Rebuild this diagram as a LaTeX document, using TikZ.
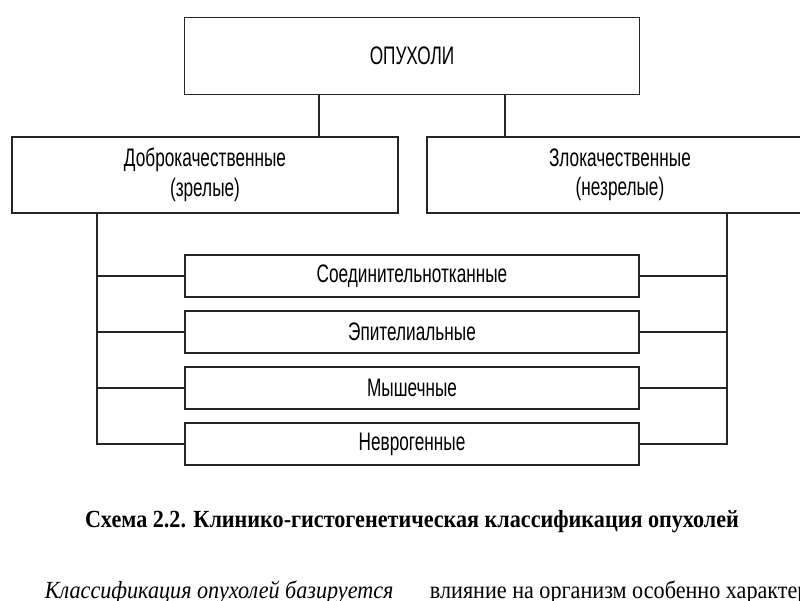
\documentclass[tikz,border=0pt]{standalone}
\usepackage{fontspec}
\setmainfont{Liberation Serif}
\newfontfamily\narrowsans[FakeStretch=0.68]{Liberation Sans}
\newfontfamily\narrowserif[FakeStretch=0.9]{Liberation Serif}
\usetikzlibrary{positioning}

\tikzset{
  box/.style={draw=black!85,line width=1.3pt,minimum height=1.9cm,
    font=\narrowsans\fontsize{18}{21}\selectfont,align=center,inner sep=0pt},
  kindbox/.style={box,minimum width=11.35cm,minimum height=1.03cm},
  wire/.style={black!85,line width=1.1pt},
  bookfont/.style={font=\narrowserif\fontsize{17.5}{20}\selectfont},
  captionfont/.style={font=\narrowserif\bfseries\fontsize{17.5}{20}\selectfont}
}

\begin{document}
\begin{tikzpicture}[x=0.025cm,y=-0.025cm]
\useasboundingbox (0,0) rectangle (800,600);
\fill[white] (0,0) rectangle (800,600);

% top level
\node[box,minimum width=11.375cm,minimum height=1.925cm] (tumor) at (412,56) {ОПУХОЛИ};
\node[box,minimum width=9.65cm] (benign) at (205,175) {Доброкачественные\\(зрелые)};
\node[box,minimum width=9.65cm] (malign) at (620,175) {Злокачественные\\(незрелые)};

\draw[wire] (tumor.south -| 319,0) -- (benign.north -| 319,0);
\draw[wire] (tumor.south -| 505,0) -- (malign.north -| 505,0);

% tissue kinds
\node[kindbox] (conn) at (412,276) {Соединительнотканные};
\node[kindbox] (epith) at (412,332) {Эпителиальные};
\node[kindbox] (muscle) at (412,388) {Мышечные};
\node[kindbox] (neuro) at (412,444) {Неврогенные};

\coordinate (busL) at (97,0);
\coordinate (busR) at (727,0);
\draw[wire] (benign.south -| busL) |- (neuro.west);
\draw[wire] (malign.south -| busR) |- (neuro.east);
\foreach \k in {conn,epith,muscle}{
  \draw[wire] (busL |- \k.west) -- (\k.west);
  \draw[wire] (\k.east) -- (busR |- \k.east);
}

% caption and text below
\node[captionfont] (caption) at (412,522)
  {Схема 2.2. Клинико-гистогенетическая классификация опухолей};
\node[bookfont,anchor=base west] (textL) at (40,598)
  {\itshape Классификация опухолей базируется};
\node[bookfont,anchor=base west] (textR) at (425,598)
  {влияние на организм особенно характер};
\end{tikzpicture}
\end{document}
